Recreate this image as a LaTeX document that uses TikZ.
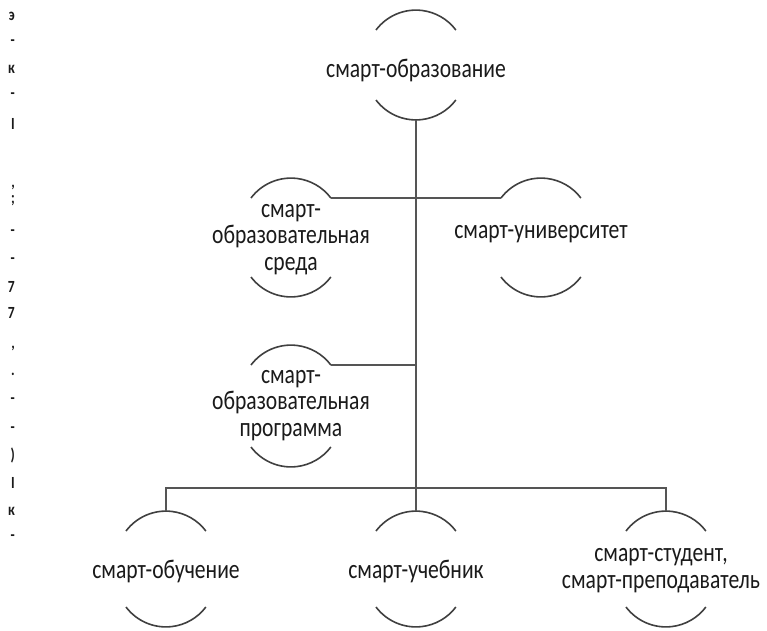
\documentclass[tikz,border=0pt]{standalone}
\usepackage{fontspec}
\setmainfont{Carlito}[FakeStretch=0.8]
\definecolor{arcgray}{HTML}{404040}
\definecolor{linegray}{HTML}{555555}
\definecolor{txt}{HTML}{1A1A1A}
\newcommand{\twoarcs}[4]{%
  \draw[arcline] (#2-40,#3+20) arc[start angle=217,end angle=323,radius=50];
  \draw[arcline] (#2-40,#4-20) arc[start angle=143,end angle=37,radius=50];
  \coordinate (#1-t) at (#2,#3);
  \coordinate (#1-b) at (#2,#4);
  \coordinate (#1-ul) at (#2-40,#3+20);
  \coordinate (#1-ur) at (#2+40,#3+20);
}
\begin{document}
\begin{tikzpicture}[x=1pt,y=-1pt,
  arcline/.style={draw=arcgray,line width=1.6pt},
  conn/.style={draw=linegray,line width=2pt},
  lbl/.style={font=\fontsize{27}{26.5}\selectfont,text=txt,align=center,inner sep=0pt,anchor=base},
  frag/.style={font=\bfseries\fontsize{17}{17}\selectfont,text=txt,inner sep=0pt,anchor=base east}]
\useasboundingbox[fill=white] (0,0) rectangle (767,630);

% arcs
\twoarcs{obr}{416}{10}{120}
\twoarcs{sreda}{291}{178}{297}
\twoarcs{univ}{541}{178}{297}
\twoarcs{prog}{291}{345}{467}
\twoarcs{obuch}{166}{511}{627}
\twoarcs{ucheb}{416}{511}{627}
\twoarcs{stud}{666}{511}{627}

% labels (base = baseline of last line)
\node[lbl] (l-obr) at (416,77) {смарт-образование};
\node[lbl] (l-sreda) at (291,270) {смарт-\\образовательная\\среда};
\node[lbl] (l-univ) at (541,238) {смарт-университет};
\node[lbl] (l-prog) at (291,436) {смарт-\\образовательная\\программа};
\node[lbl] (l-obuch) at (166,578) {смарт-обучение};
\node[lbl] (l-ucheb) at (416,578) {смарт-учебник};
\node[lbl] (l-stud) at (661,588) {смарт-студент,\\смарт-преподаватель};

% connectors
\coordinate (bus) at (416,488);
\draw[conn] (obr-b) -- (bus);
\draw[conn] (sreda-ur) -- (univ-ul);
\draw[conn] (prog-ur) -- (prog-ur -| obr-b);
\draw[conn] (obuch-t) |- (bus) -| (stud-t);
\draw[conn] (bus) -- (ucheb-t);

% cut-off margin fragments
\foreach \yy/\ch [count=\i] in {20/э,45/-,73/к,98/-,129/I,187/{,},203/;,235/-,263/-,292/7,318/7,348/{,},375/.,403/-,432/-,460/),488/I,515/к,540/-}
  \node[frag] (f\i) at (15,\yy) {\ch};
\end{tikzpicture}
\end{document}
